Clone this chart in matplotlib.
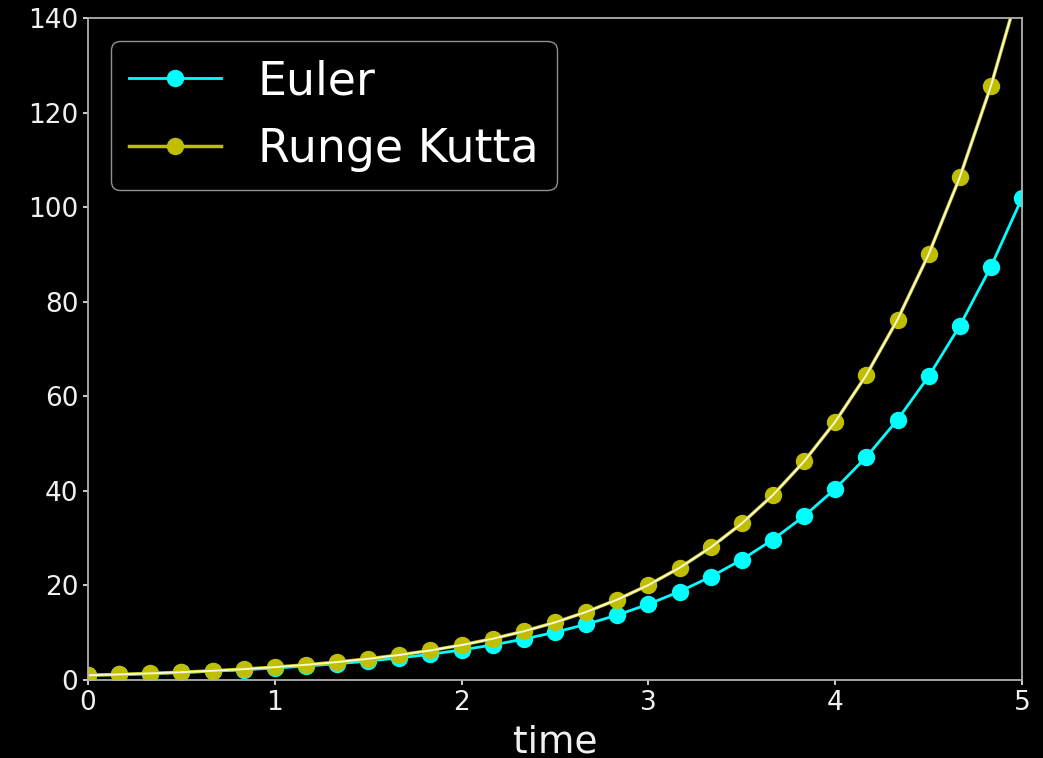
import numpy as np
import matplotlib.pyplot as plt

plt.style.use('dark_background')

# pas de temps h = 1/6 sur [0, 5]
t = [i / 6 for i in range(31)]

y_euler = [1.000, 1.167, 1.361, 1.588, 1.853, 2.161, 2.522, 2.942, 3.432, 4.004,
           4.672, 5.450, 6.359, 7.418, 8.655, 10.10, 11.78, 13.74, 16.03, 18.71,
           21.82, 25.46, 29.70, 34.66, 40.43, 47.17, 55.03, 64.20, 74.90, 87.39,
           101.95]

y_rk = [1.000, 1.181, 1.396, 1.649, 1.948, 2.301, 2.718, 3.211, 3.794, 4.482,
        5.295, 6.255, 7.389, 8.729, 10.31, 12.18, 14.39, 17.00, 20.09, 23.73,
        28.03, 33.12, 39.12, 46.22, 54.60, 64.50, 76.20, 90.02, 106.3, 125.6,
        148.4]

# solution de référence
y_exact = [1.000, 1.181, 1.396, 1.649, 1.948, 2.301, 2.718, 3.211, 3.794, 4.482,
           5.294, 6.255, 7.389, 8.729, 10.31, 12.18, 14.39, 17.00, 20.09, 23.73,
           28.03, 33.12, 39.12, 46.22, 54.60, 64.50, 76.20, 90.02, 106.3, 125.6,
           148.4]

fig = plt.figure(figsize=(10.43, 7.58), dpi=100)
ax = fig.add_axes([0.0844, 0.1029, 0.8955, 0.8734])

ax.plot(t, y_euler, '-o', color='cyan', lw=2, ms=11.5, label='Euler')
ax.plot(t, y_rk, '-o', color='y', lw=2.5, ms=11.5, label='Runge Kutta')
ax.plot(t, y_exact, color='#fbf8d8', lw=1.4)

ax.set_xlim(0, 5)
ax.set_ylim(0, 140)
ax.set_xlabel('time', fontsize=27, color='#f0f0f0', labelpad=6)
ax.tick_params(labelsize=19, colors='#f0f0f0', width=1.2)
for sp in ax.spines.values():
    sp.set_color('#b0b0b0')
    sp.set_linewidth(1.3)

leg = ax.legend(loc='upper left', fontsize=33, numpoints=1, framealpha=1,
                facecolor='black', edgecolor='#909090')

fig.savefig('out.png', dpi=100)
